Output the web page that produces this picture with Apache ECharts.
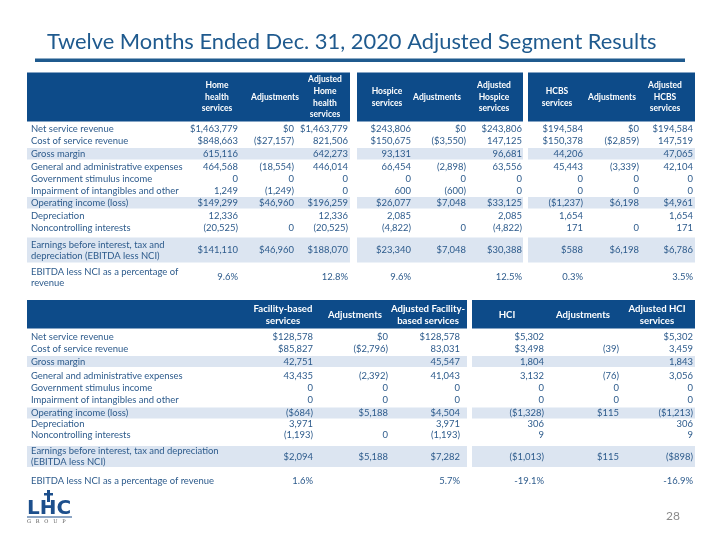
<!DOCTYPE html>
<html><head><meta charset="utf-8">
<script src="https://cdn.jsdelivr.net/npm/echarts@6/dist/echarts.min.js"></script>
<style>html,body{margin:0;padding:0;background:#fff}#c{width:720px;height:540px}</style>
</head><body><div id="c"></div>
<script>
// ---------- DATA ----------
const titleText = 'Twelve Months Ended Dec. 31, 2020 Adjusted Segment Results';
const pageNumber = '28';

const rowLabelsTop = ['Net service revenue','Cost of service revenue','Gross margin','General and administrative expenses','Government stimulus income','Impairment of intangibles and other','Operating income (loss)','Depreciation','Noncontrolling interests','Earnings before interest, tax and\ndepreciation (EBITDA less NCI)','EBITDA less NCI as a percentage of\nrevenue'];
const rowLabelsBottom = ['Net service revenue','Cost of service revenue','Gross margin','General and administrative expenses','Government stimulus income','Impairment of intangibles and other','Operating income (loss)','Depreciation','Noncontrolling interests','Earnings before interest, tax and depreciation\n(EBITDA less NCI)','EBITDA less NCI as a percentage of revenue'];

const headersTop = ['Home\nhealth\nservices','Adjustments','Adjusted\nHome\nhealth\nservices','Hospice\nservices','Adjustments','Adjusted\nHospice\nservices','HCBS\nservices','Adjustments','Adjusted\nHCBS\nservices'];
const headersBottom = ['Facility-based\nservices','Adjustments','Adjusted Facility-\nbased services','HCI','Adjustments','Adjusted HCI\nservices'];

const homeHealth  = ['$1,463,779','$848,663','615,116','464,568','0','1,249','$149,299','12,336','(20,525)','$141,110','9.6%'];
const homeHealthAdj = ['$0','($27,157)','','(18,554)','0','(1,249)','$46,960','','0','$46,960',''];
const adjHomeHealth = ['$1,463,779','821,506','642,273','446,014','0','0','$196,259','12,336','(20,525)','$188,070','12.8%'];
const hospice     = ['$243,806','$150,675','93,131','66,454','0','600','$26,077','2,085','(4,822)','$23,340','9.6%'];
const hospiceAdj  = ['$0','($3,550)','','(2,898)','0','(600)','$7,048','','0','$7,048',''];
const adjHospice  = ['$243,806','147,125','96,681','63,556','0','0','$33,125','2,085','(4,822)','$30,388','12.5%'];
const hcbs        = ['$194,584','$150,378','44,206','45,443','0','0','($1,237)','1,654','171','$588','0.3%'];
const hcbsAdj     = ['$0','($2,859)','','(3,339)','0','0','$6,198','','0','$6,198',''];
const adjHcbs     = ['$194,584','147,519','47,065','42,104','0','0','$4,961','1,654','171','$6,786','3.5%'];

const facility    = ['$128,578','$85,827','42,751','43,435','0','0','($684)','3,971','(1,193)','$2,094','1.6%'];
const facilityAdj = ['$0','($2,796)','','(2,392)','0','0','$5,188','','0','$5,188',''];
const adjFacility = ['$128,578','83,031','45,547','41,043','0','0','$4,504','3,971','(1,193)','$7,282','5.7%'];
const hci         = ['$5,302','$3,498','1,804','3,132','0','0','($1,328)','306','9','($1,013)','-19.1%'];
const hciAdj      = ['','(39)','','(76)','0','0','$115','','','$115',''];
const adjHci      = ['$5,302','3,459','1,843','3,056','0','0','($1,213)','306','9','($898)','-16.9%'];

const columnsTop = [homeHealth, homeHealthAdj, adjHomeHealth, hospice, hospiceAdj, adjHospice, hcbs, hcbsAdj, adjHcbs];
const columnsBottom = [facility, facilityAdj, adjFacility, hci, hciAdj, adjHci];

// ---------- STYLE / LAYOUT ----------
const FONT = 'Lato, "Open Sans", sans-serif';
const C_HEAD = '#0D4B89', C_BAND = '#DCE5F1', C_TEXT = '#2D5B8C', C_TITLE = '#1F5A8E', C_LOGO = '#1D4F8C';
const shadedRows = [2, 6, 9];

const mctx = document.createElement('canvas').getContext('2d');
function fitSize(text, weight, target) { mctx.font = weight + ' 100px ' + FONT; return 100 * target / mctx.measureText(text).width; }
const bodySize = fitSize('General and administrative expenses', 'normal', 152);
const titleSize = fitSize(titleText, 'normal', 610);

const layout = {
  top: {
    headerY: [72.5, 121.5], headerMid: 97, headSize: fitSize('Adjustments', 'bold', 48), headLH: 11.6,
    blocks: [[27, 350], [357, 523], [528, 695]],
    headerX: [217, 275, 325, 387, 437, 494, 557, 612, 665],
    valueRight: [238, 294, 348, 411, 466, 522, 583, 639, 693],
    rowMid: [129, 141, 153.5, 166.5, 179, 191, 203, 215.5, 228, 250, 277],
    band: {2: [148, 159.5], 6: [197, 208.5], 9: [237.5, 262.5]}
  },
  bottom: {
    headerY: [300, 328.5], headerMid: 315, headSize: fitSize('Adjustments', 'bold', 54), headLH: 12,
    blocks: [[27, 467], [472, 695]],
    headerX: [283, 355, 428, 507, 583, 657],
    valueRight: [313, 388, 460, 544, 619, 693],
    rowMid: [337, 349, 361.5, 375.5, 387.5, 399.5, 413, 424, 435, 456.5, 481],
    band: {2: [356, 367], 6: [407.5, 418.5], 9: [446, 467]}
  }
};
const labelX = 31;

// ---------- BUILD CELLS ----------
const rects = [], texts = [];
function buildTable(L, labels, headers, columns) {
  L.blocks.forEach(b => rects.push({x0: b[0], y0: L.headerY[0], x1: b[1], y1: L.headerY[1], fill: C_HEAD}));
  shadedRows.forEach(r => L.blocks.forEach(b => rects.push({x0: b[0], y0: L.band[r][0], x1: b[1], y1: L.band[r][1], fill: C_BAND})));
  headers.forEach((h, i) => texts.push({x: L.headerX[i], y: L.headerMid, text: h, align: 'center', weight: 'bold', size: L.headSize, fill: '#fff', lh: L.headLH}));
  labels.forEach((lab, r) => texts.push({x: labelX, y: L.rowMid[r], text: lab, align: 'left', weight: 'normal', size: bodySize, fill: C_TEXT, lh: 11}));
  columns.forEach((col, c) => col.forEach((v, r) => { if (v !== '') texts.push({x: L.valueRight[c], y: L.rowMid[r], text: v, align: 'right', weight: 'normal', size: bodySize, fill: C_TEXT, lh: 11}); }));
}
buildTable(layout.top, rowLabelsTop, headersTop, columnsTop);
buildTable(layout.bottom, rowLabelsBottom, headersBottom, columnsBottom);

const chart = echarts.init(document.getElementById('c'), null, {renderer: 'canvas'});
chart.setOption({
  animation: false,
  backgroundColor: '#fff',
  grid: {left: 0, right: 0, top: 0, bottom: 0},
  xAxis: {type: 'value', min: 0, max: 720, show: false},
  yAxis: {type: 'value', min: 0, max: 540, inverse: true, show: false},
  series: [
    {
      type: 'custom', silent: true, clip: false, z: 1,
      data: rects.map(r => [r.x0, r.y0, r.x1, r.y1]),
      renderItem: (params, api) => {
        const a = api.coord([api.value(0), api.value(1)]);
        const b = api.coord([api.value(2), api.value(3)]);
        return {type: 'rect', shape: {x: a[0], y: a[1], width: b[0] - a[0], height: b[1] - a[1]}, style: {fill: rects[params.dataIndex].fill}};
      }
    },
    {
      type: 'custom', silent: true, clip: false, z: 2,
      data: texts.map(t => [t.x, t.y]),
      renderItem: (params, api) => {
        const t = texts[params.dataIndex];
        const p = api.coord([api.value(0), api.value(1)]);
        return {type: 'text', x: p[0], y: p[1], style: {text: t.text, fill: t.fill, fontFamily: FONT, fontSize: t.size, fontWeight: t.weight, align: t.align, verticalAlign: 'middle', lineHeight: t.lh}};
      }
    }
  ],
  graphic: [
    {type: 'text', left: 47, top: 45 - titleSize * 0.62, style: {text: titleText, fill: C_TITLE, fontFamily: FONT, fontSize: titleSize}},
    {type: 'rect', shape: {x: 35, y: 58.5, width: 650, height: 3.5}, style: {fill: C_TITLE}},
    // logo
    {type: 'rect', shape: {x: 47, y: 490, width: 3, height: 12}, style: {fill: C_LOGO}},
    {type: 'rect', shape: {x: 44, y: 493, width: 9, height: 2.5}, style: {fill: C_LOGO}},
    {type: 'text', x: 27, y: 509, style: {text: 'LHC', fill: C_LOGO, fontFamily: '"DejaVu Sans", sans-serif', fontWeight: 'bold', fontSize: 20, verticalAlign: 'middle'}},
    {type: 'rect', shape: {x: 27, y: 516.5, width: 45, height: 1}, style: {fill: C_LOGO}},
    {type: 'text', x: 27, y: 522, style: {text: 'G   R   O   U   P', fill: '#555', fontFamily: '"DejaVu Serif", serif', fontSize: 5, verticalAlign: 'middle'}},
    {type: 'text', x: 673, y: 516, style: {text: pageNumber, fill: '#8A8A8A', fontFamily: FONT, fontSize: 12, align: 'center', verticalAlign: 'middle'}}
  ]
});
</script></body></html>
